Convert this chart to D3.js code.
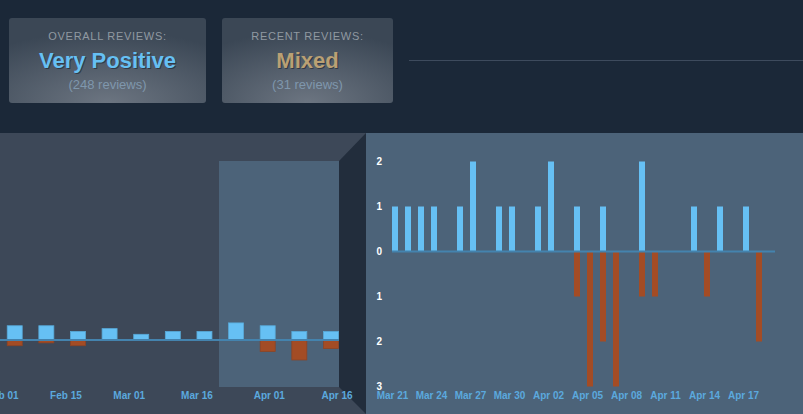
<!DOCTYPE html>
<html>
<head>
<meta charset="utf-8">
<script src="https://cdn.jsdelivr.net/npm/d3@7"></script>
<style>
  html, body { margin: 0; padding: 0; background: #1b2838; overflow: hidden; }
  svg { display: block; font-family: "Liberation Sans", Arial, sans-serif; }
</style>
</head>
<body>
<svg id="chart" width="803" height="414"></svg>
<script>
// summary boxes
const summaryTitles = ["OVERALL REVIEWS:", "RECENT REVIEWS:"];
const summaryRatings = ["Very Positive", "Mixed"];
const summaryCounts = ["(248 reviews)", "(31 reviews)"];

// overview (weekly) chart
const weekStarts = ["2025-02-02", "2025-02-09", "2025-02-16", "2025-02-23", "2025-03-02", "2025-03-09",
                    "2025-03-16", "2025-03-23", "2025-03-30", "2025-04-06", "2025-04-13"];
const weeklyUp = [5, 5, 3, 4, 2, 3, 3, 6, 5, 3, 3];
const weeklyDown = [2, 1, 2, 0, 0, 0, 0, 0, 4, 7, 3];
const overviewTicks = ["2025-02-01", "2025-02-15", "2025-03-01", "2025-03-16", "2025-04-01", "2025-04-16"];

// detail (daily) chart, Mar 21 .. Apr 19
const firstDay = "2025-03-21";
const dailyUp   = [1,1,1,1,0,1,2,0,1,1,0,1,2,0,1,0,1,0,0,2,0,0,0,1,0,1,0,1,0,0];
const dailyDown = [0,0,0,0,0,0,0,0,0,0,0,0,0,0,1,3,2,3,0,1,1,0,0,0,1,0,0,0,2,0];
const detailYTicks = [-3, -2, -1, 0, 1, 2];

const parse = d3.timeParse("%Y-%m-%d");
const fmt = d3.timeFormat("%b %d");

const upColor = "#66c0f4";
const downColor = "#a34c25";
const zeroColor = "#4483ae";
const labelColor = "#5ba9de";

const svg = d3.select("#chart");
const defs = svg.append("defs");

// radial glow for the summary boxes
const grad = defs.append("radialGradient")
    .attr("id", "boxGlow")
    .attr("cx", "50%").attr("cy", "100%").attr("r", "85%");
grad.append("stop").attr("offset", "0%").attr("stop-color", "#6c7581");
grad.append("stop").attr("offset", "100%").attr("stop-color", "#3b4755");

// ---- summary boxes ----
const boxes = [
    { x: 9, w: 197, color: "#66c0f4" },
    { x: 222, w: 171, color: "#b9a074" }
];
boxes.forEach((b, i) => {
    const g = svg.append("g");
    g.append("rect")
        .attr("x", b.x).attr("y", 18)
        .attr("width", b.w).attr("height", 85)
        .attr("rx", 3)
        .attr("fill", "url(#boxGlow)");
    const cx = b.x + b.w / 2;
    g.append("text")
        .attr("x", cx).attr("y", 40)
        .attr("text-anchor", "middle")
        .attr("font-size", 11)
        .attr("letter-spacing", 0.7)
        .attr("fill", "#9099a1")
        .text(summaryTitles[i]);
    g.append("text")
        .attr("x", cx + 1).attr("y", 69)
        .attr("text-anchor", "middle")
        .attr("font-size", 22).attr("font-weight", "bold")
        .attr("fill", "#1b2331").attr("opacity", 0.6)
        .text(summaryRatings[i]);
    g.append("text")
        .attr("x", cx).attr("y", 68)
        .attr("text-anchor", "middle")
        .attr("font-size", 22).attr("font-weight", "bold")
        .attr("fill", b.color)
        .text(summaryRatings[i]);
    g.append("text")
        .attr("x", cx).attr("y", 89)
        .attr("text-anchor", "middle")
        .attr("font-size", 13)
        .attr("fill", "#7f97ad")
        .text(summaryCounts[i]);
});

svg.append("line")
    .attr("x1", 409).attr("x2", 803)
    .attr("y1", 60.5).attr("y2", 60.5)
    .attr("stroke", "#3e4b5d");

// ---- panels ----
svg.append("rect")
    .attr("x", 0).attr("y", 133).attr("width", 366).attr("height", 281)
    .attr("fill", "#3d4858");

svg.append("rect")
    .attr("x", 219).attr("y", 161).attr("width", 120).attr("height", 226)
    .attr("fill", "#4c6379");

svg.append("polygon")
    .attr("points", "339,161 366,133 366,414 339,387")
    .attr("fill", "#222d3c");

svg.append("rect")
    .attr("x", 366).attr("y", 133).attr("width", 437).attr("height", 281)
    .attr("fill", "#4c6379");

// ---- overview chart ----
defs.append("clipPath").attr("id", "ovClip")
    .append("rect").attr("x", 0).attr("y", 133).attr("width", 339).attr("height", 281);

const xo = d3.scaleTime()
    .domain([parse("2025-02-01"), parse("2025-04-16")])
    .range([2.2, 336.5]);
const yo = d3.scaleLinear().domain([-10, 10]).range([368.5, 311.5]);

const ov = svg.append("g").attr("clip-path", "url(#ovClip)");
const weeks = weekStarts.map((d, i) => ({ date: parse(d), up: weeklyUp[i], down: weeklyDown[i] }));

ov.selectAll("rect.up")
    .data(weeks)
    .enter()
    .append("rect")
    .attr("class", "up")
    .attr("x", d => xo(d.date) + 0.5)
    .attr("y", d => yo(d.up))
    .attr("width", 15)
    .attr("height", d => yo(0) - yo(d.up))
    .attr("fill", upColor)
    .attr("stroke", "#58a9d8")
    .attr("stroke-width", 0.8);

ov.selectAll("rect.down")
    .data(weeks.filter(d => d.down > 0))
    .enter()
    .append("rect")
    .attr("class", "down")
    .attr("x", d => xo(d.date) + 0.5)
    .attr("y", yo(0))
    .attr("width", 15)
    .attr("height", d => yo(-d.down) - yo(0))
    .attr("fill", downColor)
    .attr("stroke", "#8e4424")
    .attr("stroke-width", 0.8);

ov.append("line")
    .attr("x1", 0).attr("x2", 339)
    .attr("y1", yo(0)).attr("y2", yo(0))
    .attr("stroke", zeroColor).attr("stroke-width", 2);

const ovAxis = svg.append("g")
    .attr("transform", "translate(0,392)")
    .call(d3.axisBottom(xo)
        .tickValues(overviewTicks.map(parse))
        .tickFormat(fmt)
        .tickSize(0)
        .tickPadding(0));
ovAxis.select(".domain").remove();
ovAxis.selectAll("text")
    .attr("font-size", 10)
    .attr("font-weight", "bold")
    .attr("font-family", "'Liberation Sans', Arial, sans-serif")
    .attr("fill", labelColor);

// ---- detail chart ----
const start = parse(firstDay);
const days = dailyUp.map((v, i) => ({ date: d3.timeDay.offset(start, i), up: v, down: dailyDown[i] }));

const xd = d3.scaleTime()
    .domain([start, d3.timeDay.offset(start, dailyUp.length - 1)])
    .range([392, 769]);
const yd = d3.scaleLinear().domain([-3, 2]).range([386.5, 161.5]);

const dt = svg.append("g");

dt.selectAll("rect.up")
    .data(days.filter(d => d.up > 0))
    .enter()
    .append("rect")
    .attr("class", "up")
    .attr("x", d => xd(d.date))
    .attr("y", d => yd(d.up))
    .attr("width", 6)
    .attr("height", d => yd(0) - yd(d.up))
    .attr("fill", upColor);

dt.selectAll("rect.down")
    .data(days.filter(d => d.down > 0))
    .enter()
    .append("rect")
    .attr("class", "down")
    .attr("x", d => xd(d.date))
    .attr("y", yd(0))
    .attr("width", 6)
    .attr("height", d => yd(-d.down) - yd(0))
    .attr("fill", downColor);

dt.append("line")
    .attr("x1", 392).attr("x2", 775)
    .attr("y1", yd(0)).attr("y2", yd(0))
    .attr("stroke", zeroColor).attr("stroke-width", 2);

const yAxis = svg.append("g")
    .attr("transform", "translate(385,0)")
    .call(d3.axisLeft(yd)
        .tickValues(detailYTicks)
        .tickFormat(d => Math.abs(d))
        .tickSize(0)
        .tickPadding(3));
yAxis.select(".domain").remove();
yAxis.selectAll("text")
    .attr("font-size", 10)
    .attr("font-weight", "bold")
    .attr("font-family", "'Liberation Sans', Arial, sans-serif")
    .attr("fill", "#ffffff");

const xAxis = svg.append("g")
    .attr("transform", "translate(0,392)")
    .call(d3.axisBottom(xd)
        .tickValues(d3.range(0, dailyUp.length, 3).map(i => d3.timeDay.offset(start, i)))
        .tickFormat(fmt)
        .tickSize(0)
        .tickPadding(0));
xAxis.select(".domain").remove();
xAxis.selectAll("text")
    .attr("font-size", 10)
    .attr("font-weight", "bold")
    .attr("font-family", "'Liberation Sans', Arial, sans-serif")
    .attr("fill", labelColor);
</script>
</body>
</html>
